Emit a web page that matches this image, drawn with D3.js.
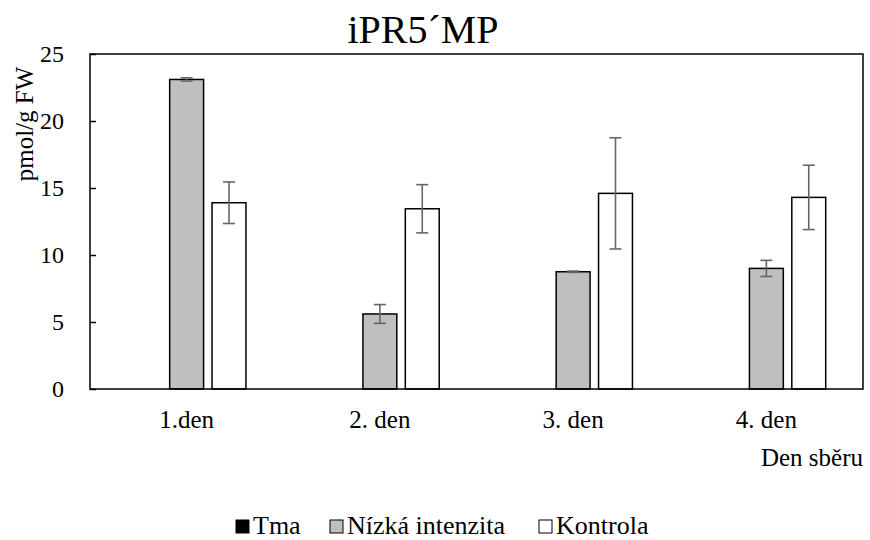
<!DOCTYPE html>
<html>
<head>
<meta charset="utf-8">
<script src="https://cdn.jsdelivr.net/npm/d3@7"></script>
</head>
<body style="margin:0; background:#fff">
<div id="chart"></div>
<script>
// data
let days = ["1.den", "2. den", "3. den", "4. den"];
let series = ["Tma", "Nízká intenzita", "Kontrola"];
let tma = [0, 0, 0, 0];
let nizka = [23.1, 5.6, 8.75, 9.0];
let nizkaErr = [0.12, 0.7, 0.05, 0.6];
let kontrola = [13.9, 13.45, 14.6, 14.3];
let kontrolaErr = [1.55, 1.8, 4.15, 2.4];
let yTicks = [0, 5, 10, 15, 20, 25];

let colors = {"Tma": "#000000", "Nízká intenzita": "#bfbfbf", "Kontrola": "#ffffff"};

let values = {"Tma": tma, "Nízká intenzita": nizka, "Kontrola": kontrola};
let errors = {"Tma": null, "Nízká intenzita": nizkaErr, "Kontrola": kontrolaErr};

let font = "Liberation Serif";
let width = 870, height = 540;
let margin = {top: 54, right: 7, bottom: 151, left: 90};

let svg = d3.select("#chart").append("svg")
    .attr("width", width)
    .attr("height", height)
    .attr("font-family", font);

let x0 = d3.scaleBand()
    .domain(days)
    .range([margin.left, width - margin.right]);

let x1 = d3.scaleBand()
    .domain(series)
    .range([0, x0.bandwidth()])
    .paddingInner(0.2)
    .paddingOuter(0.88);

let y = d3.scaleLinear()
    .domain([0, 25])
    .range([height - margin.bottom, margin.top]);

// bars
series.forEach(s => {
    let g = svg.append("g");
    g.selectAll("rect")
        .data(days)
        .enter()
        .append("rect")
        .attr("x", (d) => x0(d) + x1(s))
        .attr("y", (d, i) => y(values[s][i]))
        .attr("width", x1.bandwidth())
        .attr("height", (d, i) => y(0) - y(values[s][i]))
        .attr("fill", colors[s])
        .attr("stroke", "#000")
        .attr("stroke-width", 1.5)
        .attr("opacity", (d, i) => values[s][i] > 0 ? 1 : 0);

    // error bars
    if (errors[s]) {
        days.forEach((d, i) => {
            let cx = x0(d) + x1(s) + x1.bandwidth() / 2;
            let hi = y(values[s][i] + errors[s][i]);
            let lo = y(values[s][i] - errors[s][i]);
            let eb = g.append("g")
                .attr("stroke", "#666")
                .attr("stroke-width", 1.6);
            eb.append("line").attr("x1", cx).attr("x2", cx).attr("y1", hi).attr("y2", lo);
            eb.append("line").attr("x1", cx - 6).attr("x2", cx + 6).attr("y1", hi).attr("y2", hi);
            eb.append("line").attr("x1", cx - 6).attr("x2", cx + 6).attr("y1", lo).attr("y2", lo);
        });
    }
});

// plot frame
svg.append("rect")
    .attr("x", margin.left)
    .attr("y", margin.top)
    .attr("width", width - margin.right - margin.left)
    .attr("height", height - margin.bottom - margin.top)
    .attr("fill", "none")
    .attr("stroke", "#000")
    .attr("stroke-width", 1.5);

// y axis, ticks pointing inward
let yAxis = d3.axisLeft(y)
    .tickValues(yTicks)
    .tickSize(-6)
    .tickPadding(26);

let gy = svg.append("g")
    .attr("transform", `translate(${margin.left},0)`)
    .call(yAxis)
    .attr("font-family", font)
    .attr("font-size", 24);
gy.select(".domain").remove();
gy.selectAll(".tick line").attr("stroke", "#000").attr("stroke-width", 1.5);
gy.selectAll(".tick text").attr("fill", "#000");

// x axis labels
let xAxis = d3.axisBottom(x0)
    .tickSize(0)
    .tickPadding(21);

let gx = svg.append("g")
    .attr("transform", `translate(0,${height - margin.bottom})`)
    .call(xAxis)
    .attr("font-family", font)
    .attr("font-size", 25);
gx.select(".domain").remove();
gx.selectAll(".tick text").attr("fill", "#000");

// titles
svg.append("text")
    .attr("x", 423)
    .attr("y", 43)
    .attr("text-anchor", "middle")
    .attr("font-size", 40)
    .text("iPR5´MP");

svg.append("text")
    .attr("transform", "translate(33,124) rotate(-90)")
    .attr("text-anchor", "middle")
    .attr("font-size", 25)
    .text("pmol/g FW");

svg.append("text")
    .attr("x", 863)
    .attr("y", 466)
    .attr("text-anchor", "end")
    .attr("font-size", 25)
    .text("Den sběru");

// legend
let legendX = [236, 330, 539];
let legend = svg.append("g");
series.forEach((s, i) => {
    legend.append("rect")
        .attr("x", legendX[i])
        .attr("y", 520)
        .attr("width", 13)
        .attr("height", 13)
        .attr("fill", colors[s])
        .attr("stroke", "#000")
        .attr("stroke-width", 1);
    legend.append("text")
        .attr("x", legendX[i] + 17)
        .attr("y", 534)
        .attr("font-size", 26)
        .text(s);
});
</script>
</body>
</html>
